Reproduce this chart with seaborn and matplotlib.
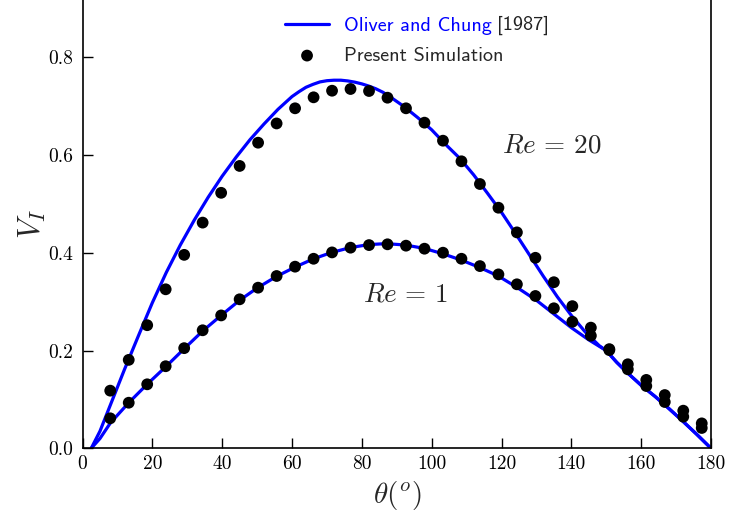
import matplotlib
matplotlib.use('Agg')
import matplotlib.pyplot as plt
import seaborn as sns
import pandas as pd

# ---------------- data ----------------
theta_sim = [7.94, 13.24, 18.53, 23.82, 29.12, 34.41, 39.71, 45.0, 50.29, 55.59,
             60.88, 66.18, 71.47, 76.76, 82.06, 87.35, 92.65, 97.94, 103.24, 108.53,
             113.82, 119.12, 124.41, 129.71, 135.0, 140.29, 145.59, 150.88, 156.18,
             161.47, 166.76, 172.06, 177.35]
v_sim_re20 = [0.118, 0.181, 0.252, 0.3255, 0.396, 0.462, 0.523, 0.578, 0.6256, 0.665,
              0.696, 0.7185, 0.732, 0.7355, 0.7314, 0.7177, 0.696, 0.6666, 0.6297, 0.5875,
              0.541, 0.4925, 0.442, 0.390, 0.340, 0.291, 0.247, 0.203, 0.172,
              0.140, 0.109, 0.077, 0.051]
v_sim_re1 = [0.0614, 0.0933, 0.131, 0.168, 0.205, 0.2416, 0.272, 0.305, 0.3288, 0.3527,
             0.3718, 0.388, 0.401, 0.4107, 0.416, 0.4176, 0.4148, 0.4086, 0.4004, 0.388,
             0.373, 0.356, 0.3357, 0.3118, 0.2866, 0.259, 0.2305, 0.201, 0.1617,
             0.1275, 0.0948, 0.0647, 0.0416]

theta_oc_re20 = [2.5, 5, 8, 12, 16, 20, 24, 28, 32, 36, 40, 44, 48, 52, 56, 60, 62,
                 64, 66, 68, 70, 72, 74, 76, 78, 80, 82, 84, 86, 88, 92, 96, 100, 104,
                 108, 112, 116, 120, 124, 128, 132, 136, 140, 144, 148, 150, 153, 156,
                 160, 164, 168, 172, 176, 180]
v_oc_re20 = [0.0, 0.035, 0.089, 0.161, 0.23, 0.298, 0.36, 0.416, 0.467, 0.514, 0.557,
             0.596, 0.632, 0.664, 0.694, 0.72, 0.73, 0.739, 0.745, 0.75, 0.7525, 0.7535,
             0.7535, 0.752, 0.7495, 0.746, 0.7415, 0.736, 0.729, 0.72, 0.7, 0.677, 0.652,
             0.622, 0.594, 0.56, 0.522, 0.483, 0.44, 0.396, 0.352, 0.31, 0.272, 0.238,
             0.21, 0.2, 0.176, 0.155, 0.129, 0.106, 0.081, 0.055, 0.028, 0.0]

theta_oc_re1 = [2.5, 5, 8, 13.2, 18.5, 24, 29, 34.4, 39.7, 45, 50, 55.6, 60.9, 66.2,
                71.4, 76.8, 82, 87, 92.6, 98, 103.3, 108.6, 113.8, 119, 124.3, 130,
                135, 140, 145, 150, 153, 156, 160, 164, 168, 172, 176, 180]
v_oc_re1 = [0.0, 0.02, 0.052, 0.093, 0.131, 0.168, 0.203, 0.24, 0.272, 0.303, 0.328,
            0.352, 0.371, 0.388, 0.401, 0.411, 0.417, 0.419, 0.416, 0.409, 0.398, 0.385,
            0.37, 0.353, 0.33, 0.303, 0.275, 0.247, 0.222, 0.2, 0.176, 0.155, 0.129,
            0.106, 0.081, 0.055, 0.028, 0.0]

x_ticks = [0, 20, 40, 60, 80, 100, 120, 140, 160, 180]
y_ticks = [0.0, 0.2, 0.4, 0.6, 0.8]

# ---------------- style ----------------
sns.set_style('ticks')
plt.rcParams['mathtext.fontset'] = 'cm'
plt.rcParams['font.family'] = ['cmr10', 'DejaVu Sans']
plt.rcParams['axes.formatter.use_mathtext'] = True
plt.rcParams['axes.unicode_minus'] = False

fig = plt.figure(figsize=(7.3, 5.22), dpi=100)
ax = fig.add_axes([82.5 / 730, 73.7 / 522, 628.5 / 730, 448.3 / 522])

df_l20 = pd.DataFrame({'theta': theta_oc_re20, 'V': v_oc_re20})
df_l1 = pd.DataFrame({'theta': theta_oc_re1, 'V': v_oc_re1})
df_sim = pd.DataFrame({'theta': theta_sim + theta_sim,
                       'V': v_sim_re20 + v_sim_re1})

sns.lineplot(data=df_l20, x='theta', y='V', ax=ax, color='#0000ff', lw=2.3,
             estimator=None, sort=False, label='Oliver and Chung')
sns.lineplot(data=df_l1, x='theta', y='V', ax=ax, color='#0000ff', lw=2.3,
             estimator=None, sort=False, label='_nolegend_')
sns.scatterplot(data=df_sim, x='theta', y='V', ax=ax, color='black', s=72,
                edgecolor='none', label='Present Simulation', zorder=3)

ax.set_xlim(0, 180)
ax.set_ylim(0, 0.9177)
ax.set_xticks(x_ticks)
ax.set_yticks(y_ticks)
ax.set_xticklabels([str(t) for t in x_ticks])
ax.set_yticklabels(['%.1f' % t for t in y_ticks])
ax.tick_params(axis='both', direction='in', length=7, width=1, colors='black',
               labelsize=14)
ax.tick_params(axis='x', pad=5)
ax.tick_params(axis='y', pad=7)
ax.spines['top'].set_visible(False)
for sp in ['left', 'right', 'bottom']:
    ax.spines[sp].set_linewidth(1.2)
    ax.spines[sp].set_color('black')

ax.set_xlabel(r'$\theta(^o)$', fontsize=21, labelpad=4)
ax.set_ylabel(r'$V_I$', fontsize=22, labelpad=0)

ax.text(120, 0.605, r'$Re\,=\,20$', fontsize=19.5)
ax.text(80.3, 0.30, r'$Re\,=\,1$', fontsize=19.5)

leg = ax.legend(loc='upper left', bbox_to_anchor=(0.322, 0.963), frameon=False,
                borderpad=0, borderaxespad=0, handlelength=2.2, handletextpad=0.75,
                labelspacing=0.6, prop={'family': 'cmss10', 'size': 14.5})
texts = leg.get_texts()
texts[0].set_color('#0000ff')

fig.canvas.draw()
ax.annotate('[1987]', xy=(1, 0), xycoords=texts[0], xytext=(3.5, 0),
            textcoords='offset points', va='bottom', ha='left',
            fontsize=14.5, family='cmss10', color='#222222')

fig.savefig('out.png', dpi=100)
